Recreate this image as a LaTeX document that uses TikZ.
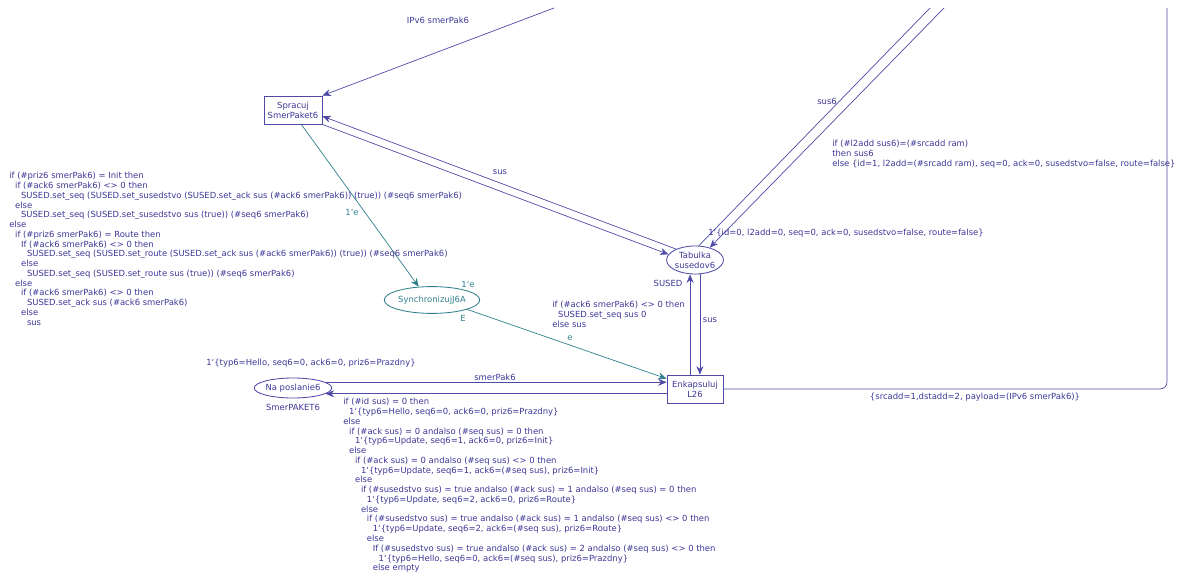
\documentclass[tikz,border=0pt]{standalone}
\usepackage{fontspec}
\setmainfont{DejaVu Sans}
\usetikzlibrary{arrows.meta,shapes.geometric,positioning}
\definecolor{cpnblue}{RGB}{60,54,150}
\definecolor{cpnline}{RGB}{78,74,165}
\definecolor{cpnteal}{RGB}{48,128,140}
\newcommand{\cpnfont}{\fontsize{6}{6.95}\selectfont}
\newcommand{\bq}{\symbol{96}}
\newlength{\indstep}
\setlength{\indstep}{4.2pt}
\newcommand{\ind}[1]{\hspace*{#1\indstep}}
\begin{document}
\begin{tikzpicture}[x=0.025cm, y=-0.025cm,
  transbox/.style={draw=cpnline, line width=0.6pt, rectangle, minimum width=1.45cm, minimum height=0.7cm, inner sep=1pt, align=center, text=cpnblue, font=\cpnfont},
  placebox/.style={draw=cpnline, line width=0.6pt, ellipse, minimum width=1.4cm, minimum height=0.7cm, inner sep=0pt, align=center, text=cpnblue, font=\cpnfont},
  syncbox/.style={placebox, draw=cpnteal, text=cpnteal},
  inscr/.style={text=cpnblue, font=\cpnfont, inner sep=0pt, align=left},
  syncinscr/.style={inscr, text=cpnteal},
  arc/.style={draw=cpnline, line width=0.5pt, -{Stealth[length=6pt,width=5pt]}},
  plainarc/.style={draw=cpnline, line width=0.5pt},
  syncarc/.style={arc, draw=cpnteal}
]
\useasboundingbox (0,0) rectangle (1182,576);

\node[transbox] (spr) at (293,110) {Spracuj\\SmerPaket6};
\node[placebox] (tab) at (695,260) {Tabulka\\susedov6};
\node[syncbox, minimum width=2cm, minimum height=0.67cm] (syn) at (432,300) {SynchronizujJ6A};
\node[transbox, minimum width=1.4cm] (enk) at (695,389) {Enkapsuluj\\L26};
\node[placebox, minimum width=1.9cm, minimum height=0.5cm] (nap) at (293,388) {Na poslanie6};

\coordinate (outT) at (554,8);
\coordinate (outA) at (930,8);
\coordinate (outB) at (944,8);
\coordinate (outR) at (1167,8);

\draw[arc] (outT) -- (spr.north east);
\draw[arc] (tab.150) -- (spr.-12);
\draw[arc] (spr.south east) -- (tab.168);
\draw[plainarc] (tab.75) -- (outA);
\draw[arc] (outB) -- (tab.40);
\draw[syncarc] (spr.-60) -- (syn.135);
\draw[syncarc] (syn.-15) -- (enk.160);
\draw[arc] ([xshift=-3.5pt]enk.north) -- ([xshift=-3.5pt]tab.south);
\draw[arc] ([xshift=3.5pt]tab.south) -- ([xshift=3.5pt]enk.north);
\draw[arc] (nap.10) -- (nap.10 -| enk.west);
\draw[arc] (enk.west |- nap.-10) -- (nap.-10);
\draw[plainarc, rounded corners=5pt] (enk.east) -| (outR);

\node[inscr] (lIpv) at (438,20) {IPv6 smerPak6};
\node[inscr] (lSus) at (500,172) {sus};
\node[syncinscr] (lE1) at (352,212) {1\bq e};
\node[inscr] (lSus6) at (827,101) {sus6};
\node[inscr, anchor=north west] (lIf) at (832,140) {if (\#l2add sus6)=(\#srcadd ram)\\then sus6\\else \{id=1, l2add=(\#srcadd ram), seq=0, ack=0, susedstvo=false, route=false\}};
\node[inscr, anchor=west] (mTab) at (708,233) {1\bq\{id=0, l2add=0, seq=0, ack=0, susedstvo=false, route=false\}};
\node[inscr] (cTab) at (668,283) {SUSED};
\node[inscr, anchor=north west] (lSet) at (552,301) {if (\#ack6 smerPak6) <> 0 then\\\ind{1}SUSED.set\_seq sus 0\\else sus};
\node[inscr] (lSus2) at (710,320) {sus};
\node[syncinscr] (mSyn) at (468,284) {1\bq e};
\node[syncinscr] (cSyn) at (463,318) {E};
\node[syncinscr] (lE2) at (570,338) {e};
\node[inscr, anchor=west] (mNap) at (206,363) {1\bq\{typ6=Hello, seq6=0, ack6=0, priz6=Prazdny\}};
\node[inscr] (lSmer) at (495,377) {smerPak6};
\node[inscr] (cNap) at (293,407) {SmerPAKET6};
\node[inscr] (lPay) at (975,397) {\{srcadd=1,dstadd=2, payload=(IPv6 smerPak6)\}};

\node[inscr, anchor=north west] (lLeft) at (9,172) {if (\#priz6 smerPak6) = Init then\\
\ind{1}if (\#ack6 smerPak6) <> 0 then\\
\ind{2}SUSED.set\_seq (SUSED.set\_susedstvo (SUSED.set\_ack sus (\#ack6 smerPak6)) (true)) (\#seq6 smerPak6)\\
\ind{1}else\\
\ind{2}SUSED.set\_seq (SUSED.set\_susedstvo sus (true)) (\#seq6 smerPak6)\\
else\\
\ind{1}if (\#priz6 smerPak6) = Route then\\
\ind{2}If (\#ack6 smerPak6) <> 0 then\\
\ind{3}SUSED.set\_seq (SUSED.set\_route (SUSED.set\_ack sus (\#ack6 smerPak6)) (true)) (\#seq6 smerPak6)\\
\ind{2}else\\
\ind{3}SUSED.set\_seq (SUSED.set\_route sus (true)) (\#seq6 smerPak6)\\
\ind{1}else\\
\ind{2}if (\#ack6 smerPak6) <> 0 then\\
\ind{3}SUSED.set\_ack sus (\#ack6 smerPak6)\\
\ind{2}else\\
\ind{3}sus};

\node[inscr, anchor=north west] (lBot) at (343,398) {if (\#id sus) = 0 then\\
\ind{1}1\bq\{typ6=Hello, seq6=0, ack6=0, priz6=Prazdny\}\\
else\\
\ind{1}if (\#ack sus) = 0 andalso (\#seq sus) = 0 then\\
\ind{2}1\bq\{typ6=Update, seq6=1, ack6=0, priz6=Init\}\\
\ind{1}else\\
\ind{2}if (\#ack sus) = 0 andalso (\#seq sus) <> 0 then\\
\ind{3}1\bq\{typ6=Update, seq6=1, ack6=(\#seq sus), priz6=Init\}\\
\ind{2}else\\
\ind{3}if (\#susedstvo sus) = true andalso (\#ack sus) = 1 andalso (\#seq sus) = 0 then\\
\ind{4}1\bq\{typ6=Update, seq6=2, ack6=0, priz6=Route\}\\
\ind{3}else\\
\ind{4}if (\#susedstvo sus) = true andalso (\#ack sus) = 1 andalso (\#seq sus) <> 0 then\\
\ind{5}1\bq\{typ6=Update, seq6=2, ack6=(\#seq sus), priz6=Route\}\\
\ind{4}else\\
\ind{5}If (\#susedstvo sus) = true andalso (\#ack sus) = 2 andalso (\#seq sus) <> 0 then\\
\ind{6}1\bq\{typ6=Hello, seq6=0, ack6=(\#seq sus), priz6=Prazdny\}\\
\ind{5}else empty};
\end{tikzpicture}
\end{document}
